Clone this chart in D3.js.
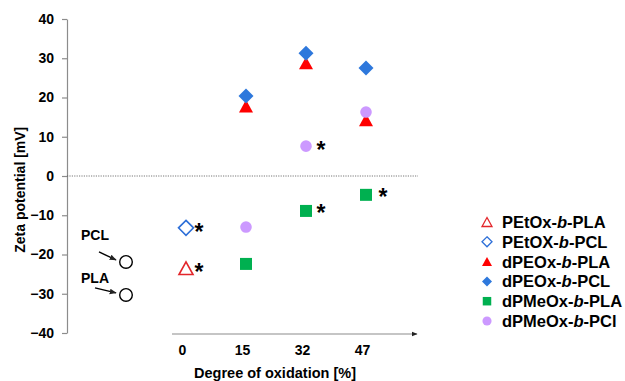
<!DOCTYPE html>
<html>
<head>
<meta charset="utf-8">
<script src="https://cdn.jsdelivr.net/npm/d3@7"></script>
<style>
  body { margin: 0; background: #fff; }
  text { font-family: "Liberation Sans", Arial, sans-serif; font-weight: bold; fill: #000; }
</style>
</head>
<body>
<svg id="chart" width="625" height="381"></svg>
<script>
// categories: "homo" is the slot for the pure PCL / PLA reference points
const categories = ["homo", "0", "15", "32", "47"];
const oxidationTicks = ["0", "15", "32", "47"];
const yTicks = [-40, -30, -20, -10, 0, 10, 20, 30, 40];

// homopolymer references
const homoLabels = ["PCL", "PLA"];
const homoValues = [-21.9, -30.3];

// series values, keyed by category
const petoxPla = [["0", -23.5]];
const petoxPcl = [["0", -13.2]];
const dpeoxPla = [["15", 17.8], ["32", 28.8], ["47", 14.3]];
const dpeoxPcl = [["15", 20.4], ["32", 31.3], ["47", 27.5]];
const dpmeoxPla = [["15", -22.4], ["32", -8.9], ["47", -4.8]];
const dpmeoxPcl = [["15", -13.0], ["32", 7.6], ["47", 16.3]];

// points flagged with an asterisk: [series index, category]
const significant = [[0, "0"], [1, "0"], [4, "32"], [4, "47"], [5, "32"]];

const series = [
  { name: ["PEtOx-", "b", "-PLA"], data: petoxPla, shape: "triangle", fill: "none", stroke: "#e3262b" },
  { name: ["PEtOX-", "b", "-PCL"], data: petoxPcl, shape: "diamond", fill: "none", stroke: "#2d6fd8" },
  { name: ["dPEOx-", "b", "-PLA"], data: dpeoxPla, shape: "triangle", fill: "#ff0000", stroke: "none" },
  { name: ["dPEOx-", "b", "-PCL"], data: dpeoxPcl, shape: "diamond", fill: "#2e78dc", stroke: "none" },
  { name: ["dPMeOx-", "b", "-PLA"], data: dpmeoxPla, shape: "square", fill: "#00b050", stroke: "none" },
  { name: ["dPMeOx-", "b", "-PCl"], data: dpmeoxPcl, shape: "circle", fill: "#cc99ff", stroke: "none" }
];

const svg = d3.select("#chart");

const x = d3.scalePoint().domain(categories).range([126, 366]);
const y = d3.scaleLinear().domain([-40, 40]).range([333, 19]);

function shapePath(shape, s) {
  if (shape === "triangle") {
    const h = s * 0.9;
    return "M0," + (-h / 2) + "L" + (s / 2) + "," + (h / 2) + "L" + (-s / 2) + "," + (h / 2) + "Z";
  }
  if (shape === "diamond") {
    const r = s / 2;
    return "M0," + (-r) + "L" + r + ",0L0," + r + "L" + (-r) + ",0Z";
  }
  if (shape === "square") {
    const r = s / 2 - 0.5;
    return "M" + (-r) + "," + (-r) + "H" + r + "V" + r + "H" + (-r) + "Z";
  }
  const r = s / 2 - 0.7;
  return "M" + r + ",0A" + r + "," + r + " 0 1,1 " + (-r) + ",0A" + r + "," + r + " 0 1,1 " + r + ",0Z";
}

// y axis
const yAxis = svg.append("g")
    .attr("transform", "translate(" + 67 + ",0)")
    .call(d3.axisLeft(y).tickValues(yTicks).tickSize(5).tickSizeOuter(0).tickPadding(8));
yAxis.selectAll("path, line").attr("stroke", "#8c8c8c").attr("stroke-width", 1.2);
yAxis.selectAll("text").attr("font-size", 14).attr("font-weight", "bold")
    .attr("font-family", "Liberation Sans, Arial, sans-serif").attr("fill", "#000");

svg.append("text")
    .attr("transform", "translate(25," + y(-3.5) + ") rotate(-90)")
    .attr("text-anchor", "middle")
    .attr("font-size", 14)
    .text("Zeta potential [mV]");

// zero line
svg.append("line")
    .attr("x1", 67).attr("x2", x("47") + 52)
    .attr("y1", y(0)).attr("y2", y(0))
    .attr("stroke", "#555").attr("stroke-width", 0.8)
    .attr("stroke-dasharray", "1.2,1.2");

// x axis with arrow
svg.append("defs").append("marker")
    .attr("id", "arrow")
    .attr("viewBox", "0 0 10 10")
    .attr("refX", 9).attr("refY", 5)
    .attr("markerWidth", 5).attr("markerHeight", 5)
    .attr("orient", "auto")
    .append("path").attr("d", "M0,1L10,5L0,9Z").attr("fill", "#222");

svg.append("line")
    .attr("x1", x("0") - 14).attr("x2", x("47") + 51)
    .attr("y1", y(-40) + 1).attr("y2", y(-40) + 1)
    .attr("stroke", "#8c8c8c").attr("stroke-width", 1.2)
    .attr("marker-end", "url(#arrow)");

const xAxis = svg.append("g")
    .attr("transform", "translate(-4," + (y(-40) + 1) + ")")
    .call(d3.axisBottom(x).tickValues(oxidationTicks).tickSize(0).tickPadding(11));
xAxis.select(".domain").remove();
xAxis.selectAll("text").attr("font-size", 14).attr("font-weight", "bold")
    .attr("font-family", "Liberation Sans, Arial, sans-serif").attr("fill", "#000");

svg.append("text")
    .attr("x", (x("0") + x("47")) / 2 - 1)
    .attr("y", 378)
    .attr("text-anchor", "middle")
    .attr("font-size", 14.5)
    .text("Degree of oxidation [%]");

// homopolymer reference circles with labels and arrows
const homoLayout = [{ lx: -31, ly: -22, ax: -27, ay: -10 }, { lx: -31, ly: -12, ax: -31, ay: -7 }];
const homo = svg.append("g");
homoValues.forEach(function(v, i) {
  const cx = x("homo"), cy = y(v), L = homoLayout[i];
  homo.append("circle")
      .attr("cx", cx).attr("cy", cy).attr("r", 6.3)
      .attr("fill", "#fff").attr("stroke", "#000").attr("stroke-width", 1.4);
  homo.append("line")
      .attr("x1", cx + L.ax).attr("y1", cy + L.ay)
      .attr("x2", cx - 10).attr("y2", cy - 2)
      .attr("stroke", "#000").attr("stroke-width", 1.4)
      .attr("marker-end", "url(#arrow)");
  homo.append("text")
      .attr("x", cx + L.lx).attr("y", cy + L.ly)
      .attr("text-anchor", "middle")
      .attr("font-size", 14)
      .text(homoLabels[i]);
});

// data points
const sizes = { triangle: 14, diamond: 15, square: 13, circle: 13 };
series.forEach(function(s, si) {
  svg.append("g").selectAll("path")
      .data(s.data)
      .join("path")
      .attr("transform", function(d) { return "translate(" + x(d[0]) + "," + y(d[1]) + ")"; })
      .attr("d", shapePath(s.shape, sizes[s.shape]))
      .attr("fill", s.fill)
      .attr("stroke", s.stroke)
      .attr("stroke-width", s.fill === "none" ? 1.6 : 0);
});

// asterisks
svg.append("g").selectAll("text")
    .data(significant)
    .join("text")
    .attr("x", function(d) { return x(d[1]) + (d[1] === "0" ? 13 : d[1] === "47" ? 17 : 15); })
    .attr("y", function(d) {
      const v = series[d[0]].data.find(function(p) { return p[0] === d[1]; })[1];
      return y(v) + (d[0] === 4 ? 10 : 12);
    })
    .attr("text-anchor", "middle")
    .attr("font-size", 23)
    .text("*");

// legend
const legend = svg.append("g").attr("transform", "translate(487,222)");
series.forEach(function(s, i) {
  const row = legend.append("g").attr("transform", "translate(0," + (i * 19.8) + ")");
  row.append("path")
      .attr("d", shapePath(s.shape, s.shape === "circle" ? 10.5 : s.shape === "square" ? 9.5 : 10))
      .attr("fill", s.fill)
      .attr("stroke", s.stroke)
      .attr("stroke-width", s.fill === "none" ? 1.3 : 0);
  const t = row.append("text").attr("x", 15).attr("y", 6).attr("font-size", 16.5);
  t.append("tspan").text(s.name[0]);
  t.append("tspan").attr("font-style", "italic").text(s.name[1]);
  t.append("tspan").text(s.name[2]);
});
</script>
</body>
</html>
